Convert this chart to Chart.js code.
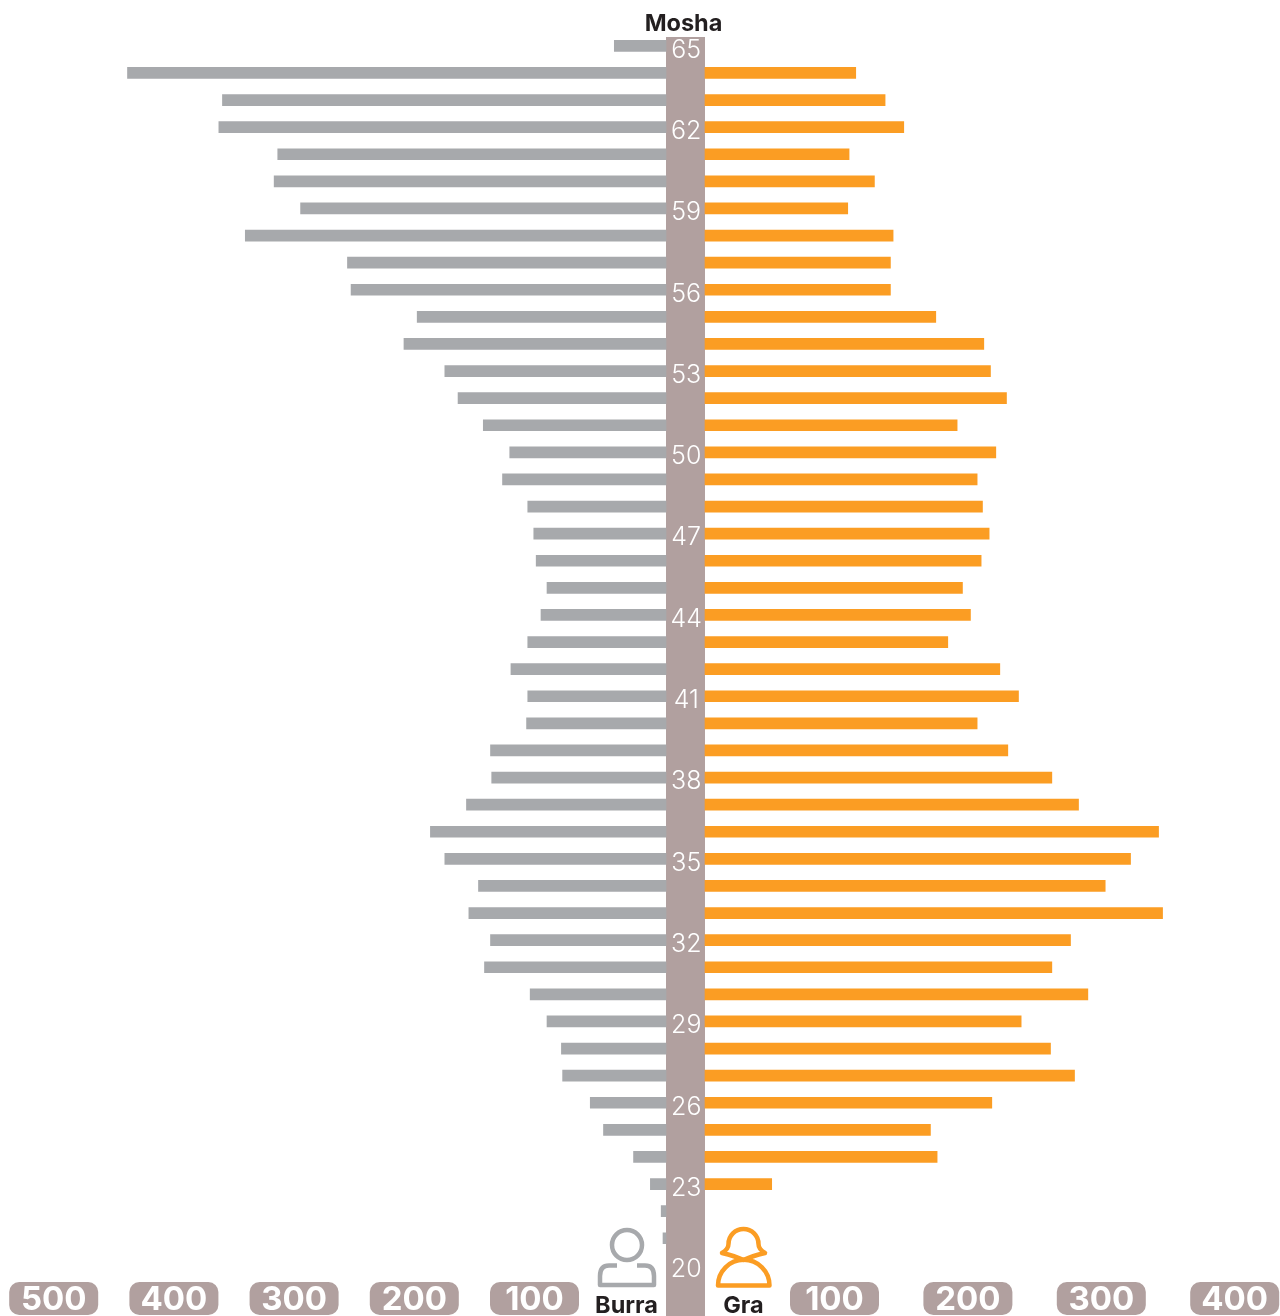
<!DOCTYPE html>
<html lang="sq">
<head>
<meta charset="utf-8">
<title>Mosha</title>
<script src="https://cdn.jsdelivr.net/npm/chart.js@4"></script>
<style>
  html, body { margin: 0; padding: 0; background: #fff; }
  canvas { display: block; }
</style>
</head>
<body>
<canvas id="myChart" width="1280" height="1316"></canvas>
<script>
"use strict";

// moshat, nga lart poshte
const ages = [65, 64, 63, 62, 61, 60, 59, 58, 57, 56, 55, 54, 53, 52, 51, 50, 49, 48, 47, 46, 45, 44, 43,
  42, 41, 40, 39, 38, 37, 36, 35, 34, 33, 32, 31, 30, 29, 28, 27, 26, 25, 24, 23, 22, 21, 20];

const burra = [43, 448, 369, 372, 323, 326, 304, 350, 265, 262, 207, 218, 184, 173, 152, 130, 136, 115, 110, 108, 99, 104, 115,
  129, 115, 116, 146, 145, 166, 196, 184, 156, 164, 146, 151, 113, 99, 87, 86, 63, 52, 27, 13, 4, 2.5, null];

const gra = [null, 113, 135, 149, 108, 127, 107, 141, 139, 139, 173, 209, 214, 226, 189, 218, 204, 208, 213, 207, 193, 199, 182,
  221, 235, 204, 227, 260, 280, 340, 319, 300, 343, 274, 260, 287, 237, 259, 277, 215, 169, 174, 50, null, null, null];

const leftTicks = [100, 200, 300, 400, 500];
const rightTicks = [100, 200, 300, 400];

const GREY = "#a7a9ac";
const ORANGE = "#fb9d23";
const TAUPE = "#b1a09f";
const DARK = "#231f20";

// pills + kolona e mesit, para se te vizatohen shkallet
const backgroundPlugin = {
  id: "background",
  afterLayout(chart) {
    const { xLeft, xRight, y } = chart.scales;
    // boshti y rri brenda kolones se mesit
    const x0 = xLeft.getPixelForValue(0);
    y.left = x0;
    y.right = x0;
    // te dy boshtet x ne te njejtin rresht
    xRight.top = xLeft.top;
    xRight.bottom = xLeft.bottom;
  },
  beforeDraw(chart) {
    const { ctx, scales } = chart;
    ctx.save();
    ctx.fillStyle = TAUPE;
    const x0 = scales.xLeft.getPixelForValue(0);
    const x1 = scales.xRight.getPixelForValue(0);
    ctx.fillRect(x0, 37, x1 - x0, 1316 - 37);
    [scales.xLeft, scales.xRight].forEach((scale) => {
      const offset = scale.options.ticks.labelOffset;
      scale.ticks.forEach((tick) => {
        const cx = scale.getPixelForValue(tick.value) + offset;
        ctx.beginPath();
        ctx.roundRect(cx - 44.5, 1282, 89, 33, 10);
        ctx.fill();
      });
    });
    ctx.restore();
  }
};

// tekstet dhe ikonat
const labelsPlugin = {
  id: "labels",
  afterDraw(chart) {
    const { ctx } = chart;
    ctx.save();
    ctx.fillStyle = DARK;
    ctx.font = "700 23.5px Inter";
    ctx.textAlign = "center";
    ctx.textBaseline = "alphabetic";
    ctx.fillText("Mosha", 683.5, 31);
    ctx.fillText("Burra", 626.5, 1312.5);
    ctx.fillText("Gra", 743.5, 1312.5);

    ctx.lineWidth = 4.5;
    ctx.lineJoin = "round";

    ctx.strokeStyle = GREY;
    ctx.beginPath();
    ctx.arc(627, 1245, 15, 0, Math.PI * 2);
    ctx.stroke();
    ctx.beginPath();
    ctx.moveTo(617, 1265.5);
    ctx.lineTo(609, 1265.5);
    ctx.quadraticCurveTo(600, 1265.5, 600, 1276);
    ctx.lineTo(600, 1285);
    ctx.lineTo(654, 1285);
    ctx.lineTo(654, 1276);
    ctx.quadraticCurveTo(654, 1265.5, 645, 1265.5);
    ctx.lineTo(637, 1265.5);
    ctx.stroke();

    ctx.strokeStyle = ORANGE;
    ctx.beginPath();
    ctx.moveTo(722, 1253);
    ctx.bezierCurveTo(727, 1250, 728.5, 1247, 728.5, 1244);
    ctx.arc(743.5, 1244, 15, Math.PI, 0);
    ctx.bezierCurveTo(758.5, 1247, 760, 1250, 765, 1253);
    ctx.quadraticCurveTo(752, 1256, 743.5, 1260);
    ctx.quadraticCurveTo(735, 1256, 722, 1253);
    ctx.closePath();
    ctx.stroke();
    ctx.beginPath();
    ctx.moveTo(718, 1285.5);
    ctx.lineTo(769.5, 1285.5);
    ctx.arc(743.75, 1285.5, 25.75, 0, Math.PI, true);
    ctx.closePath();
    ctx.stroke();
    ctx.restore();
  }
};

// xRight ka lartesi 0 qe hapesira mos te zihet dy here
function xAxis(tickValues, weight, height, min, max, reverse, labelOffset) {
  return {
    type: "linear",
    position: "bottom",
    weight: weight,
    reverse: reverse,
    min: min,
    max: max,
    border: { display: false },
    grid: { display: false, drawTicks: false },
    afterBuildTicks: (scale) => {
      scale.ticks = tickValues.map((value) => ({ value }));
    },
    afterFit: (scale) => {
      scale.height = height;
    },
    ticks: {
      autoSkip: false,
      maxRotation: 0,
      padding: 1,
      labelOffset: labelOffset,
      color: "#fff",
      font: { family: "Inter", size: 33, weight: "700" },
      callback: (value) => String(value)
    }
  };
}

const ctx = document.getElementById("myChart").getContext("2d");
const myChart = new Chart(ctx, {
  type: "bar",
  data: {
    labels: ages,
    datasets: [
      { label: "Burra", data: burra, xAxisID: "xLeft", backgroundColor: GREY, barThickness: 11 },
      { label: "Gra", data: gra, xAxisID: "xRight", backgroundColor: ORANGE, barThickness: 11 }
    ]
  },
  options: {
    indexAxis: "y",
    responsive: false,
    animation: false,
    grouped: false,
    layout: { padding: { top: 32.3 } },
    plugins: {
      legend: { display: false },
      tooltip: { enabled: false }
    },
    scales: {
      // 1.202 px per njesi majtas (zero te 666), 1.334 djathtas (zero te 705)
      xLeft: xAxis(leftTicks, 2, 37.1, (666 - 1280) / 1.202, 666 / 1.202, true, -11.3),
      xRight: xAxis(rightTicks, 1, 0, -705 / 1.334, 575 / 1.334, false, -3.9),
      y: {
        type: "category",
        position: "left",
        border: { display: false },
        grid: { display: false, drawTicks: false },
        afterFit: (scale) => {
          scale.width = 0;
        },
        ticks: {
          autoSkip: false,
          mirror: true,
          crossAlign: "center",
          padding: 4.5,
          labelOffset: 4.3,
          color: "#fff",
          font: { family: "Inter", size: 25, weight: "300" },
          callback: (value, index) => (index % 3 === 0 ? String(ages[index]) : "")
        }
      }
    }
  },
  plugins: [backgroundPlugin, labelsPlugin]
});
</script>
</body>
</html>
